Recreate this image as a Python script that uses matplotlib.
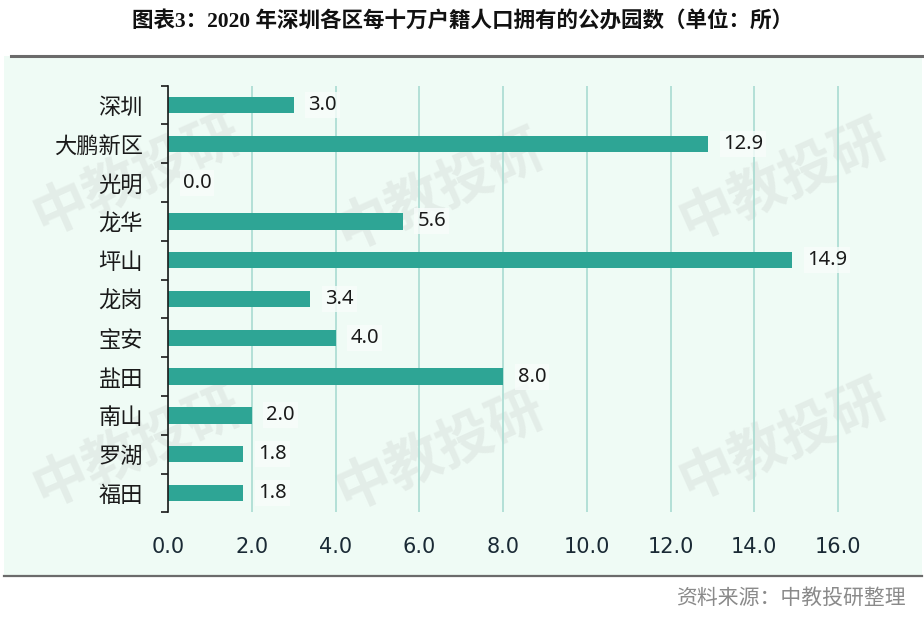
import matplotlib
matplotlib.use("Agg")
import matplotlib.pyplot as plt
from matplotlib import font_manager
from matplotlib.patches import Rectangle

districts = ["深圳", "大鹏新区", "光明", "龙华", "坪山", "龙岗", "宝安", "盐田", "南山", "罗湖", "福田"]
values = [3.0, 12.9, 0.0, 5.6, 14.9, 3.4, 4.0, 8.0, 2.0, 1.8, 1.8]
x_ticks = [0, 2, 4, 6, 8, 10, 12, 14, 16]
x_tick_labels = ["%.1f" % v for v in x_ticks]

title = "图表3：2020 年深圳各区每十万户籍人口拥有的公办园数（单位：所）"
source = "资料来源：中教投研整理"
watermark = "中教投研"

names = {f.name for f in font_manager.fontManager.ttflist}
narrow = "Liberation Sans Narrow" if "Liberation Sans Narrow" in names else "DejaVu Sans"
cjk = "Noto Sans CJK SC"
plt.rcParams["font.family"] = [cjk, "DejaVu Sans"]

bar_color = "#2ea595"
grid_color = "#a9dbd2"
panel_color = "#effbf5"

fig = plt.figure(figsize=(9.24, 6.18), dpi=100)

# mint panel with grey top / bottom rules
fig.patches.append(Rectangle((0.004, 0.066), 0.994, 0.843, transform=fig.transFigure,
                             facecolor=panel_color, edgecolor="none", zorder=-10))
fig.add_artist(plt.Line2D([0.012, 0.998], [0.909, 0.909], color="#6b6b6b", lw=2.2, zorder=-9))
fig.add_artist(plt.Line2D([0.004, 0.998], [0.068, 0.068], color="#6b6b6b", lw=1.6, zorder=-9))

ax = fig.add_axes([0.1818, 0.1709, 0.7706, 0.6906])
ax.set_facecolor("none")

# watermarks
for wx, wy in [(137, 175), (440, 190), (783, 180), (137, 447), (440, 450), (783, 440)]:
    fig.text(wx / 924, 1 - wy / 618, watermark, fontsize=40, fontweight="bold",
             color="#c9cfcb", alpha=0.3, rotation=24, ha="center", va="center",
             family=[cjk], zorder=-5)

y = list(range(len(districts)))
ax.barh(y, values, height=0.42, color=bar_color, zorder=3)

for yi, v in zip(y, values):
    ax.text(v + 0.35, yi, "%.1f" % v, va="center", ha="left", fontsize=14.5,
            color="#1a1a1a", family=["Noto Sans", "DejaVu Sans"], zorder=4,
            bbox=dict(boxstyle="square,pad=0.15", fc="#f8fdfb", ec="none", alpha=0.8))

ax.set_ylim(len(districts) - 0.5, -0.5)
ax.set_xlim(0, 17)
ax.set_yticks(y)
ax.set_yticklabels(districts, fontsize=16, color="#1a1a1a")
ax.set_yticks([i + 0.5 for i in range(-1, len(districts))], minor=True)
ax.tick_params(axis="y", which="major", length=0, pad=18)
ax.tick_params(axis="y", which="minor", length=5, width=1.2, color="#1a1a1a")

ax.set_xticks(x_ticks)
ax.set_xticklabels(x_tick_labels, fontsize=15, family=[narrow], color="#1a2a35")
ax.tick_params(axis="x", length=0, pad=18)

ax.xaxis.grid(True, color=grid_color, lw=1.2, zorder=0)
ax.set_axisbelow(True)
for side in ["top", "right", "bottom"]:
    ax.spines[side].set_visible(False)
ax.spines["left"].set_color("#1a1a1a")
ax.spines["left"].set_linewidth(1.2)
ax.spines["left"].set_zorder(5)

fig.text(0.5, 0.965, title, ha="center", va="center", fontsize=15.5, fontweight="bold",
         family=["Liberation Serif", cjk], color="#111111")
fig.text(0.98, 0.032, source, ha="right", va="center", fontsize=15, color="#8a8a8a",
         family=[cjk])

fig.savefig("out.png", dpi=100)
